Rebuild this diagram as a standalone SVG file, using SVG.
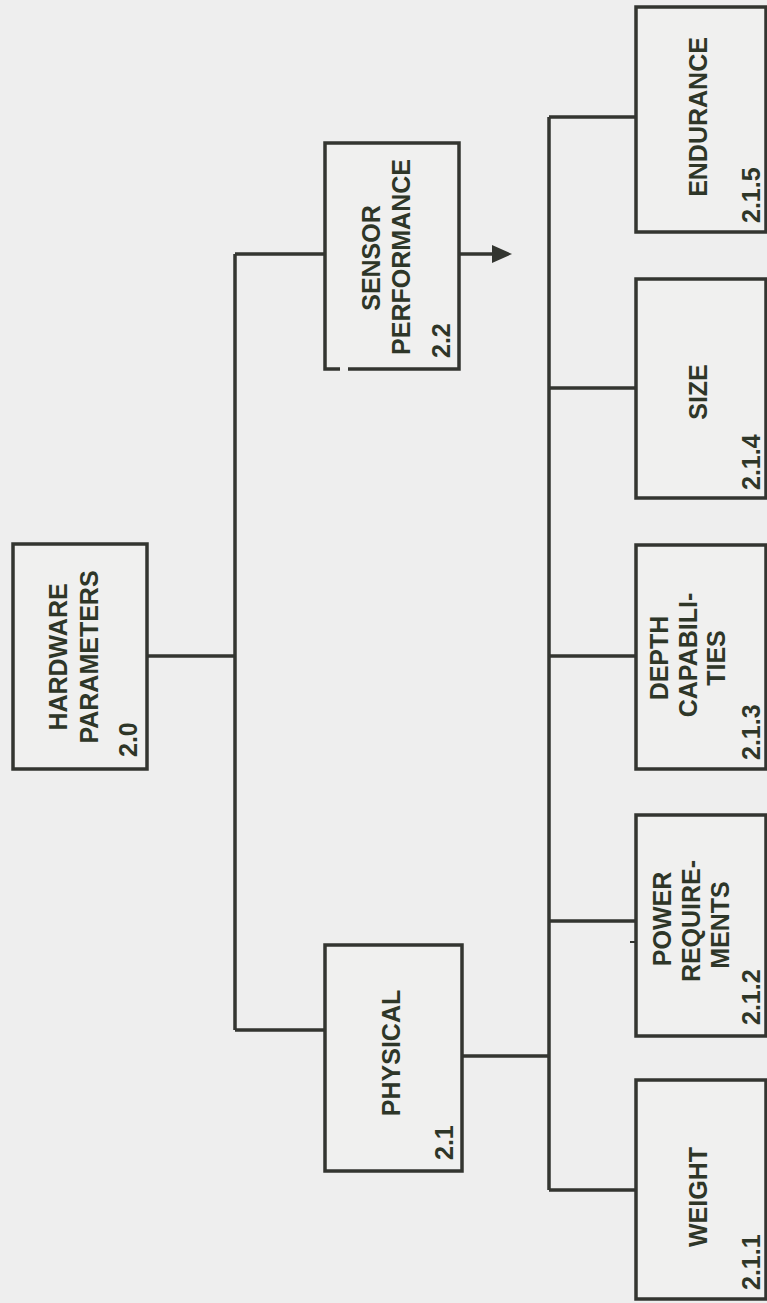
<svg xmlns="http://www.w3.org/2000/svg" width="767" height="1303" viewBox="0 0 767 1303">
<style>
.bg{fill:#eeeeee}
.box{fill:#f0f0ef;stroke:#333530;stroke-width:3.5}
.ln{fill:none;stroke:#333530;stroke-width:3.5}
.t{font-family:"Liberation Sans",Arial,sans-serif;font-weight:bold;font-size:25px;fill:#2e3628}
.m{text-anchor:middle}
</style>
<rect class="bg" x="0" y="0" width="767" height="1303"/>
<g id="connectors">
<path class="ln" d="M147 656H235M235 254V1030M235 254H325M235 1030H325"/>
<path class="ln" d="M462 1056H549M549 117V1190M549 117H636M549 388H636M549 656H636M549 921H636M549 1190H636"/>
<path class="ln" d="M459 254H494"/>
<polygon points="492,245 512,254 492,263" fill="#333530"/>
<path class="ln" d="M636 942H630" style="stroke-width:2"/>
</g>
<g id="n20">
<rect class="box" x="13" y="544" width="134" height="225"/>
<text class="t m" transform="translate(67,657) rotate(-90)">HARDWARE</text>
<text class="t m" transform="translate(98,657) rotate(-90)">PARAMETERS</text>
<text class="t" transform="translate(137,757) rotate(-90)">2.0</text>
</g>
<g id="n22">
<rect x="325" y="143" width="134" height="226" fill="#f0f0ef"/>
<path class="ln" d="M340 369H325V143H459V369H348"/>
<text class="t m" transform="translate(380,258) rotate(-90)">SENSOR</text>
<text class="t m" transform="translate(410,257) rotate(-90)">PERFORMANCE</text>
<text class="t" transform="translate(450,358) rotate(-90)">2.2</text>
</g>
<g id="n21">
<rect class="box" x="325" y="945" width="137" height="226"/>
<text class="t m" transform="translate(400,1053) rotate(-90)">PHYSICAL</text>
<text class="t" transform="translate(453,1160) rotate(-90)">2.1</text>
</g>
<g id="n215">
<rect class="box" x="636" y="7" width="130" height="225"/>
<text class="t m" transform="translate(707,117) rotate(-90)">ENDURANCE</text>
<text class="t" transform="translate(760,223) rotate(-90)">2.1.5</text>
</g>
<g id="n214">
<rect class="box" x="636" y="279" width="130" height="219"/>
<text class="t m" transform="translate(707,392) rotate(-90)">SIZE</text>
<text class="t" transform="translate(760,490) rotate(-90)">2.1.4</text>
</g>
<g id="n213">
<rect class="box" x="636" y="545" width="130" height="224"/>
<text class="t m" transform="translate(668,658) rotate(-90)">DEPTH</text>
<text class="t m" transform="translate(697,655) rotate(-90)">CAPABILI-</text>
<text class="t m" transform="translate(725,658) rotate(-90)">TIES</text>
<text class="t" transform="translate(760,760) rotate(-90)">2.1.3</text>
</g>
<g id="n212">
<rect class="box" x="636" y="815" width="130" height="221"/>
<text class="t m" transform="translate(671,919) rotate(-90)">POWER</text>
<text class="t m" transform="translate(700,921) rotate(-90)">REQUIRE-</text>
<text class="t m" transform="translate(729,925) rotate(-90)">MENTS</text>
<text class="t" transform="translate(760,1025) rotate(-90)">2.1.2</text>
</g>
<g id="n211">
<rect class="box" x="636" y="1080" width="130" height="219"/>
<text class="t m" transform="translate(707,1197) rotate(-90)">WEIGHT</text>
<text class="t" transform="translate(760,1290) rotate(-90)">2.1.1</text>
</g>
</svg>
